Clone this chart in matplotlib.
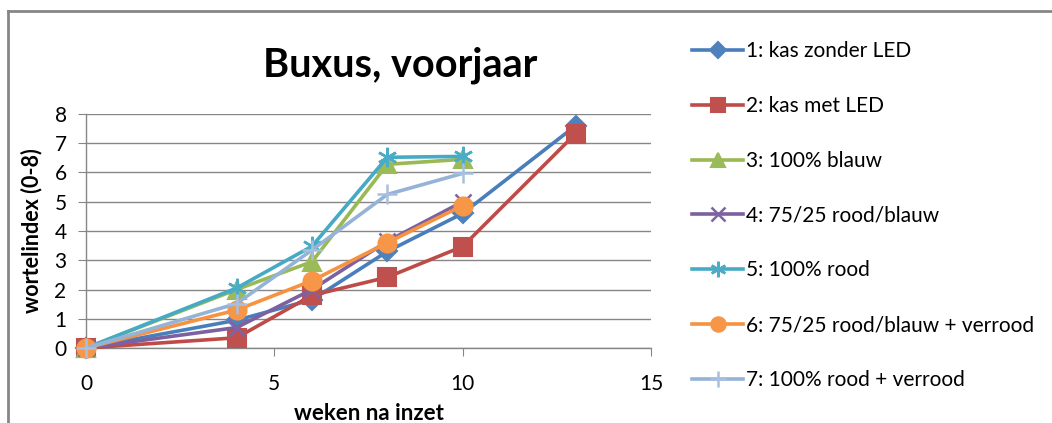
import matplotlib
matplotlib.use("Agg")
import matplotlib.pyplot as plt
from matplotlib.lines import Line2D

weeks_long = [0, 4, 6, 8, 10, 13]
weeks_short = [0, 4, 6, 8, 10]

labels = [
    "1: kas zonder LED",
    "2: kas met LED",
    "3: 100% blauw",
    "4: 75/25 rood/blauw",
    "5: 100% rood",
    "6: 75/25 rood/blauw + verrood",
    "7: 100% rood + verrood",
]
s1 = [0, 0.95, 1.65, 3.3, 4.6, 7.6]
s2 = [0, 0.35, 1.8, 2.42, 3.47, 7.33]
s3 = [0, 2.0, 2.95, 6.28, 6.45]
s4 = [0, 0.7, 2.0, 3.65, 5.0]
s5 = [0, 2.05, 3.48, 6.52, 6.55]
s6 = [0, 1.3, 2.3, 3.6, 4.87]
s7 = [0, 1.52, 3.35, 5.25, 5.97]

series = [
    (weeks_long, s1, "#4A7EBB", "#4F81BD", "D", 10),
    (weeks_long, s2, "#BE4B48", "#C0504D", "s", 13),
    (weeks_short, s3, "#98B954", "#9BBB59", "^", 13),
    (weeks_short, s4, "#7D60A0", "#8064A2", "x", 12),
    (weeks_short, s5, "#46AAC5", "#4BACC6", (6, 2, 0), 14),
    (weeks_short, s6, "#F69240", "#F79646", "o", 13),
    (weeks_short, s7, "#95B3D7", "#A7C0DE", "+", 14),
]

plt.rcParams["font.family"] = ["Lato", "DejaVu Sans"]

fig = plt.figure(figsize=(10.52, 4.23), dpi=100)
ax = fig.add_axes([86 / 1052, 1 - 348 / 423, (651 - 86) / 1052, (348 - 114) / 423])

grey = "#868686"
handles = []
for (xs, ys, lc, mc, mk, ms), lab in zip(series, labels):
    ln, = ax.plot(xs, ys, color=lc, lw=2.6, marker=mk, markersize=ms,
                  markerfacecolor=mc, markeredgecolor=mc,
                  markeredgewidth=1.5 if mk not in ("x", "+", (6, 2, 0)) else 1.8,
                  clip_on=False, zorder=3, label=lab)
    handles.append(ln)

ax.set_xlim(0, 15)
ax.set_ylim(0, 8)
ax.set_xticks([0, 5, 10, 15])
ax.set_yticks(range(0, 9))
ax.grid(axis="y", color=grey, lw=1)
ax.set_axisbelow(True)
for sp in ("top", "right"):
    ax.spines[sp].set_visible(False)
for sp in ("left", "bottom"):
    ax.spines[sp].set_color(grey)
    ax.spines[sp].set_linewidth(1)
ax.tick_params(axis="both", direction="out", length=6, color=grey, labelsize=15, labelcolor="black")
ax.tick_params(axis="x", pad=13)
ax.tick_params(axis="y", pad=8)

ax.set_xlabel("weken na inzet", fontsize=16, fontweight="bold", labelpad=6)
ax.set_ylabel("wortelindex (0-8)", fontsize=15.5, fontweight="bold", labelpad=9)

fig.text(400 / 1052, 1 - 65 / 423, "Buxus, voorjaar", fontsize=28.5, fontweight="bold",
         ha="center", va="center")

leg = fig.legend(handles=handles, loc="upper left", bbox_to_anchor=(684 / 1052, 1 - 33 / 423),
                 frameon=False, fontsize=15, handlelength=2.45, handletextpad=0.12,
                 labelspacing=1.67, borderaxespad=0, markerscale=0.8)

# chart-area border
fig.add_artist(Line2D([8 / 1052, 1], [1 - 11 / 423, 1 - 11 / 423], transform=fig.transFigure, color=grey, lw=2))
fig.add_artist(Line2D([8 / 1052, 8 / 1052], [0, 1 - 11 / 423], transform=fig.transFigure, color=grey, lw=2))

fig.savefig("out.png", dpi=100)
